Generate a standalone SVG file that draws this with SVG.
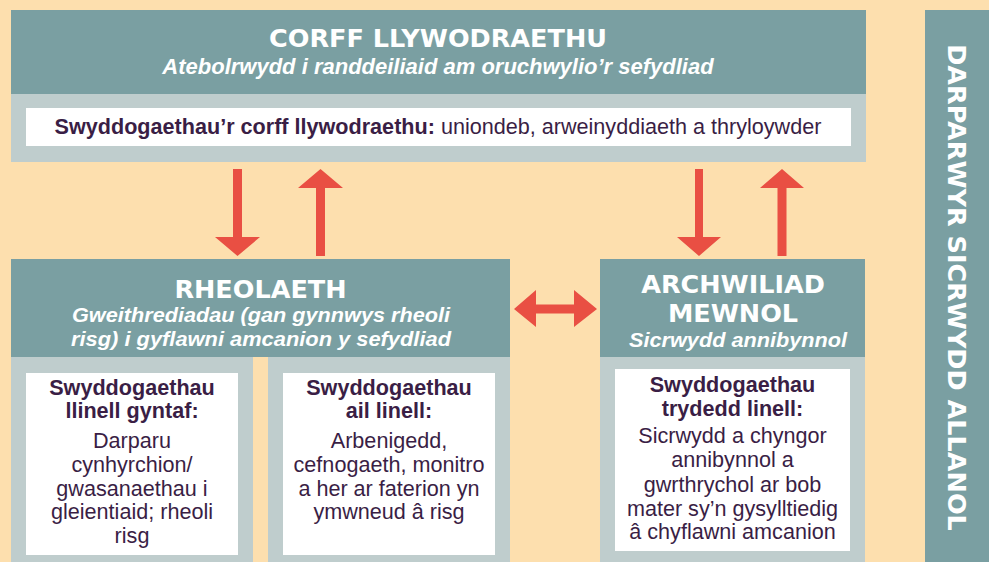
<svg xmlns="http://www.w3.org/2000/svg" width="989" height="562" viewBox="0 0 989 562">
<style>
.bg{fill:#FDDFAE}
.teal{fill:#7A9FA2}
.light{fill:#BFCDCD}
.white{fill:#FFFFFF}
.arrow{fill:#E94F43}
.hd{font-family:"DejaVu Sans","Liberation Sans",sans-serif;font-weight:bold;font-size:25.5px;fill:#FFFFFF;text-anchor:middle}
.sub{font-family:"Liberation Sans",Arial,sans-serif;font-weight:bold;font-style:italic;font-size:22px;fill:#FFFFFF;text-anchor:middle}
.sub2{font-family:"Liberation Sans",Arial,sans-serif;font-weight:bold;font-style:italic;font-size:20.5px;fill:#FFFFFF;text-anchor:middle}
.body{font-family:"Liberation Sans",Arial,sans-serif;font-size:21.6px;fill:#3A1E45;text-anchor:middle}
.b{font-weight:bold}
</style>
<rect class="bg" x="0" y="0" width="989" height="562"/>

<g id="corff-llywodraethu">
<rect class="light" x="11" y="10" width="855" height="152"/>
<rect class="teal" x="11" y="10" width="855" height="84"/>
<text class="hd" x="438" y="47">CORFF LLYWODRAETHU</text>
<text class="sub" x="438" y="74">Atebolrwydd i randdeiliaid am oruchwylio’r sefydliad</text>
<rect class="white" x="26" y="108" width="825" height="38"/>
<text class="body" x="438" y="134"><tspan class="b">Swyddogaethau’r corff llywodraethu:</tspan> uniondeb, arweinyddiaeth a thryloywder</text>
</g>

<g id="rheolaeth">
<rect class="light" x="11" y="259" width="242" height="303"/>
<rect class="light" x="268" y="259" width="242" height="303"/>
<rect class="teal" x="11" y="259" width="499" height="98"/>
<text class="hd" x="260.5" y="298">RHEOLAETH</text>
<text class="sub2" x="261" y="322" textLength="378" lengthAdjust="spacingAndGlyphs">Gweithrediadau (gan gynnwys rheoli</text>
<text class="sub2" x="261" y="345.5" textLength="380" lengthAdjust="spacingAndGlyphs">risg) i gyflawni amcanion y sefydliad</text>
</g>

<g id="llinell-gyntaf">
<rect class="white" x="26" y="373" width="212" height="182"/>
<text class="body b" x="132" y="395">Swyddogaethau</text>
<text class="body b" x="132" y="418">llinell gyntaf:</text>
<text class="body" x="132" y="448">Darparu</text>
<text class="body" x="132" y="472">cynhyrchion/</text>
<text class="body" x="132" y="496">gwasanaethau i</text>
<text class="body" x="132" y="519">gleientiaid; rheoli</text>
<text class="body" x="132" y="543">risg</text>
</g>

<g id="ail-linell">
<rect class="white" x="283" y="373" width="212" height="182"/>
<text class="body b" x="389" y="395">Swyddogaethau</text>
<text class="body b" x="389" y="418">ail linell:</text>
<text class="body" x="389" y="448">Arbenigedd,</text>
<text class="body" x="389" y="472">cefnogaeth, monitro</text>
<text class="body" x="389" y="496">a her ar faterion yn</text>
<text class="body" x="389" y="519">ymwneud â risg</text>
</g>

<g id="archwiliad-mewnol">
<rect class="light" x="600" y="259" width="265" height="303"/>
<rect class="teal" x="600" y="259" width="265" height="98"/>
<text class="hd" x="733" y="293">ARCHWILIAD</text>
<text class="hd" x="733" y="321.5">MEWNOL</text>
<text class="sub2" x="738" y="347" textLength="218" lengthAdjust="spacingAndGlyphs">Sicrwydd annibynnol</text>
</g>

<g id="trydedd-linell">
<rect class="white" x="615" y="369" width="235" height="182"/>
<text class="body b" x="732.5" y="392">Swyddogaethau</text>
<text class="body b" x="732.5" y="416">trydedd linell:</text>
<text class="body" x="732.5" y="443">Sicrwydd a chyngor</text>
<text class="body" x="732.5" y="467">annibynnol a</text>
<text class="body" x="732.5" y="492">gwrthrychol ar bob</text>
<text class="body" x="732.5" y="516">mater sy’n gysylltiedig</text>
<text class="body" x="732.5" y="539">â chyflawni amcanion</text>
</g>

<g id="darparwyr-sicrwydd-allanol">
<rect class="teal" x="925" y="10" width="64" height="552"/>
<text class="hd" transform="translate(948,287.5) rotate(90)" x="0" y="0">DARPARWYR SICRWYDD ALLANOL</text>
</g>

<g id="connectors">
<polygon class="arrow" points="233,169 242,169 242,237 260,237 237.5,256 215,237 233,237"/>
<polygon class="arrow" points="298,188 320.5,169 343,188 325,188 325,256 316,256 316,188"/>
<polygon class="arrow" points="695,169 703,169 703,237 721,237 699,256 677,237 695,237"/>
<polygon class="arrow" points="760,188 782,169 804,188 786.5,188 786.5,256 777.5,256 777.5,188"/>
<polygon class="arrow" points="514,309 536,290 536,304.5 574,304.5 574,290 597,309 574,327 574,313.5 536,313.5 536,327"/>
</g>
</svg>
